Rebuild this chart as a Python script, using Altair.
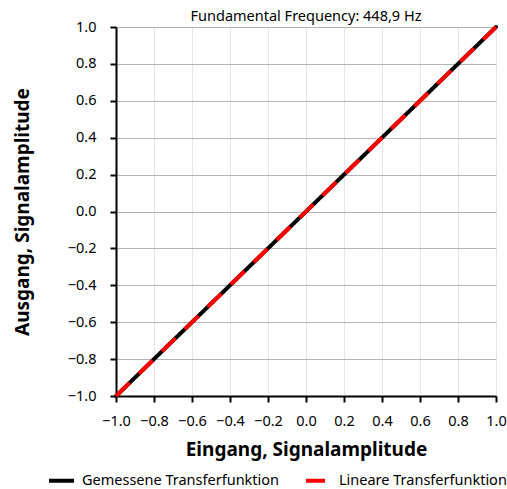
import altair as alt
import pandas as pd

title_text = "Fundamental Frequency: 448,9 Hz"
x_title = "Eingang, Signalamplitude"
y_title = "Ausgang, Signalamplitude"
series_names = ["Gemessene Transferfunktion", "Lineare Transferfunktion"]

measured_x = [-1.0, -0.8, -0.6, -0.4, -0.2, 0.0, 0.2, 0.4, 0.6, 0.8, 1.0]
measured_y = [-1.0, -0.8, -0.6, -0.4, -0.2, 0.0, 0.2, 0.4, 0.6, 0.8, 1.0]
linear_x = [-1.0, 1.0]
linear_y = [-1.0, 1.0]
ticks = [-1.0, -0.8, -0.6, -0.4, -0.2, 0.0, 0.2, 0.4, 0.6, 0.8, 1.0]

rows = []
for i, (a, b) in enumerate(zip(measured_x, measured_y)):
    rows.append({"x": a, "y": b, "series": series_names[0], "o": i})
for i, (a, b) in enumerate(zip(linear_x, linear_y)):
    rows.append({"x": a, "y": b, "series": series_names[1], "o": i})
df = pd.DataFrame(rows)

FONT = "Noto Sans"
label_expr = "replace(format(datum.value, '.1f'), '-', '\u2212')"

common_axis = dict(values=ticks, labelExpr=label_expr, grid=True,
                   domainColor="black", domainWidth=2, tickColor="black", tickWidth=2,
                   tickSize=6, labelFontSize=14.5, labelColor="black",
                   labelOverlap=False, labelFlush=False,
                   titleFontSize=19, titleFontWeight="bold", titleColor="black",
                   labelFont=FONT, titleFont=FONT)

xs = alt.Scale(domain=[-1, 1], nice=False)
ys = alt.Scale(domain=[-1, 1], nice=False)

x_enc = alt.X("x:Q", scale=xs, title=x_title,
              axis=alt.Axis(gridColor="#e6e6e6", labelPadding=12, titlePadding=13, **common_axis))
y_enc = alt.Y("y:Q", scale=ys, title=y_title,
              axis=alt.Axis(gridColor="#b4b4b4", labelPadding=14, titlePadding=35, **common_axis))

color_enc = alt.Color("series:N", scale=alt.Scale(domain=series_names, range=["black", "#ff0000"]),
                      legend=alt.Legend(title=None, orient="none", direction="horizontal",
                                        legendX=-69, legendY=439, symbolType="stroke",
                                        symbolSize=625, symbolStrokeWidth=4, labelFontSize=14.5,
                                        labelFont=FONT, labelColor="black", columnPadding=18,
                                        labelOffset=6, labelLimit=400, padding=0))
dash_enc = alt.StrokeDash("series:N", scale=alt.Scale(domain=series_names, range=[[1, 0], [19, 13]]),
                          legend=None)

base = alt.Chart(df).encode(x=x_enc, y=y_enc, order="o:Q", color=color_enc, strokeDash=dash_enc)

measured = base.mark_line(strokeWidth=4, strokeCap="round").transform_filter(
    alt.datum.series == series_names[0])
linear = base.mark_line(strokeWidth=4, strokeCap="butt").transform_filter(
    alt.datum.series == series_names[1])

chart = alt.layer(measured, linear).properties(
    width=380, height=369,
    title=alt.Title(title_text, font=FONT, fontSize=14.5, fontWeight="normal", color="black",
                    anchor="middle", baseline="bottom", offset=2, dy=21),
    autosize=alt.AutoSizeParams(type="none"),
    padding={"left": 116, "top": 27, "right": 11, "bottom": 93},
).configure_view(stroke=None).configure(background="white")

chart.save("out.html", embed_options={"renderer": "svg", "actions": False})
